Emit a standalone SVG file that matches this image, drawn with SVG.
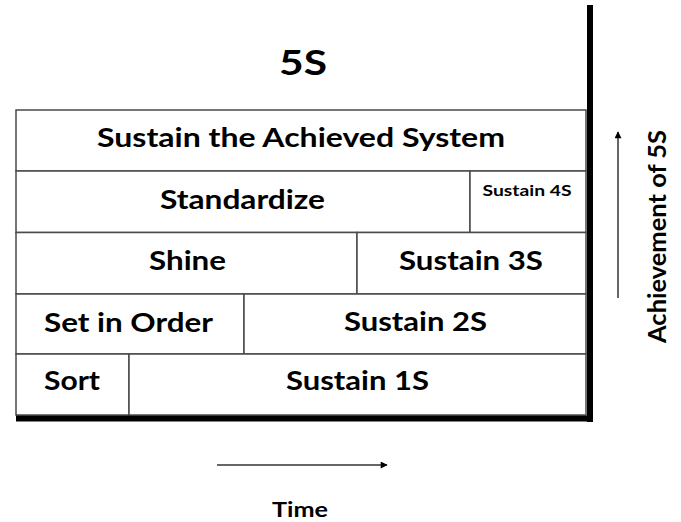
<svg xmlns="http://www.w3.org/2000/svg" width="681" height="522" viewBox="0 0 681 522">
  <defs>
    <style>
      .cell { fill: #ffffff; stroke: #4a4a4a; stroke-width: 1.5; }
      .lbl { font-family: Lato, "Liberation Sans", Arial, sans-serif; font-weight: bold; fill: #000000; text-anchor: middle; }
      .big { font-size: 27px; }
      .small { font-size: 15.5px; }
      .axis { stroke: #000000; stroke-width: 6; fill: none; }
      .arrow { stroke: #333333; stroke-width: 1.5; fill: none; }
    </style>
    <marker id="head" viewBox="0 0 10 10" refX="9" refY="5" markerWidth="8" markerHeight="7" orient="auto" markerUnits="userSpaceOnUse">
      <path d="M0,0 L10,5 L0,10 z" fill="#000000"/>
    </marker>
  </defs>

  <rect width="681" height="522" fill="#ffffff"/>

  <!-- title -->
  <text class="lbl" x="303" y="75" font-size="35" textLength="48" lengthAdjust="spacingAndGlyphs">5S</text>

  <!-- row 5 -->
  <g id="sustain-system">
    <rect class="cell" x="16" y="110" width="570" height="61"/>
    <text class="lbl big" x="301" y="147" textLength="408" lengthAdjust="spacingAndGlyphs">Sustain the Achieved System</text>
  </g>

  <!-- row 4 -->
  <g id="standardize">
    <rect class="cell" x="16" y="171" width="454" height="61.5"/>
    <text class="lbl big" x="242.5" y="209" textLength="165" lengthAdjust="spacingAndGlyphs">Standardize</text>
  </g>
  <g id="sustain-4s">
    <rect class="cell" x="470" y="171" width="116" height="61.5"/>
    <text class="lbl small" x="527" y="196" textLength="89" lengthAdjust="spacingAndGlyphs">Sustain 4S</text>
  </g>

  <!-- row 3 -->
  <g id="shine">
    <rect class="cell" x="16" y="232.5" width="341" height="61.5"/>
    <text class="lbl big" x="187.5" y="270" textLength="77" lengthAdjust="spacingAndGlyphs">Shine</text>
  </g>
  <g id="sustain-3s">
    <rect class="cell" x="357" y="232.5" width="229" height="61.5"/>
    <text class="lbl big" x="471" y="270" textLength="144" lengthAdjust="spacingAndGlyphs">Sustain 3S</text>
  </g>

  <!-- row 2 -->
  <g id="set-in-order">
    <rect class="cell" x="16" y="294" width="228" height="60"/>
    <text class="lbl big" x="128.5" y="331.5" textLength="169" lengthAdjust="spacingAndGlyphs">Set in Order</text>
  </g>
  <g id="sustain-2s">
    <rect class="cell" x="244" y="294" width="342" height="60"/>
    <text class="lbl big" x="415.5" y="331" textLength="143" lengthAdjust="spacingAndGlyphs">Sustain 2S</text>
  </g>

  <!-- row 1 -->
  <g id="sort">
    <rect class="cell" x="16" y="354" width="113" height="61"/>
    <text class="lbl big" x="72" y="390" textLength="56" lengthAdjust="spacingAndGlyphs">Sort</text>
  </g>
  <g id="sustain-1s">
    <rect class="cell" x="129" y="354" width="457" height="61"/>
    <text class="lbl big" x="357.5" y="390" textLength="143" lengthAdjust="spacingAndGlyphs">Sustain 1S</text>
  </g>

  <!-- axes and direction arrows -->
  <g id="connectors">
    <line class="axis" x1="590" y1="5" x2="590" y2="422"/>
    <line class="axis" x1="16" y1="418.5" x2="593" y2="418.5"/>
    <line class="arrow" x1="618" y1="298" x2="618" y2="132" marker-end="url(#head)"/>
    <line class="arrow" x1="217" y1="465" x2="387" y2="465" marker-end="url(#head)"/>
  </g>

  <g id="axis-labels">
    <text class="lbl" x="0" y="0" font-size="25" textLength="213" lengthAdjust="spacingAndGlyphs" transform="translate(666 236.5) rotate(-90)">Achievement of 5S</text>
    <text class="lbl" x="300" y="517" font-size="21" textLength="56" lengthAdjust="spacingAndGlyphs">Time</text>
  </g>
</svg>
